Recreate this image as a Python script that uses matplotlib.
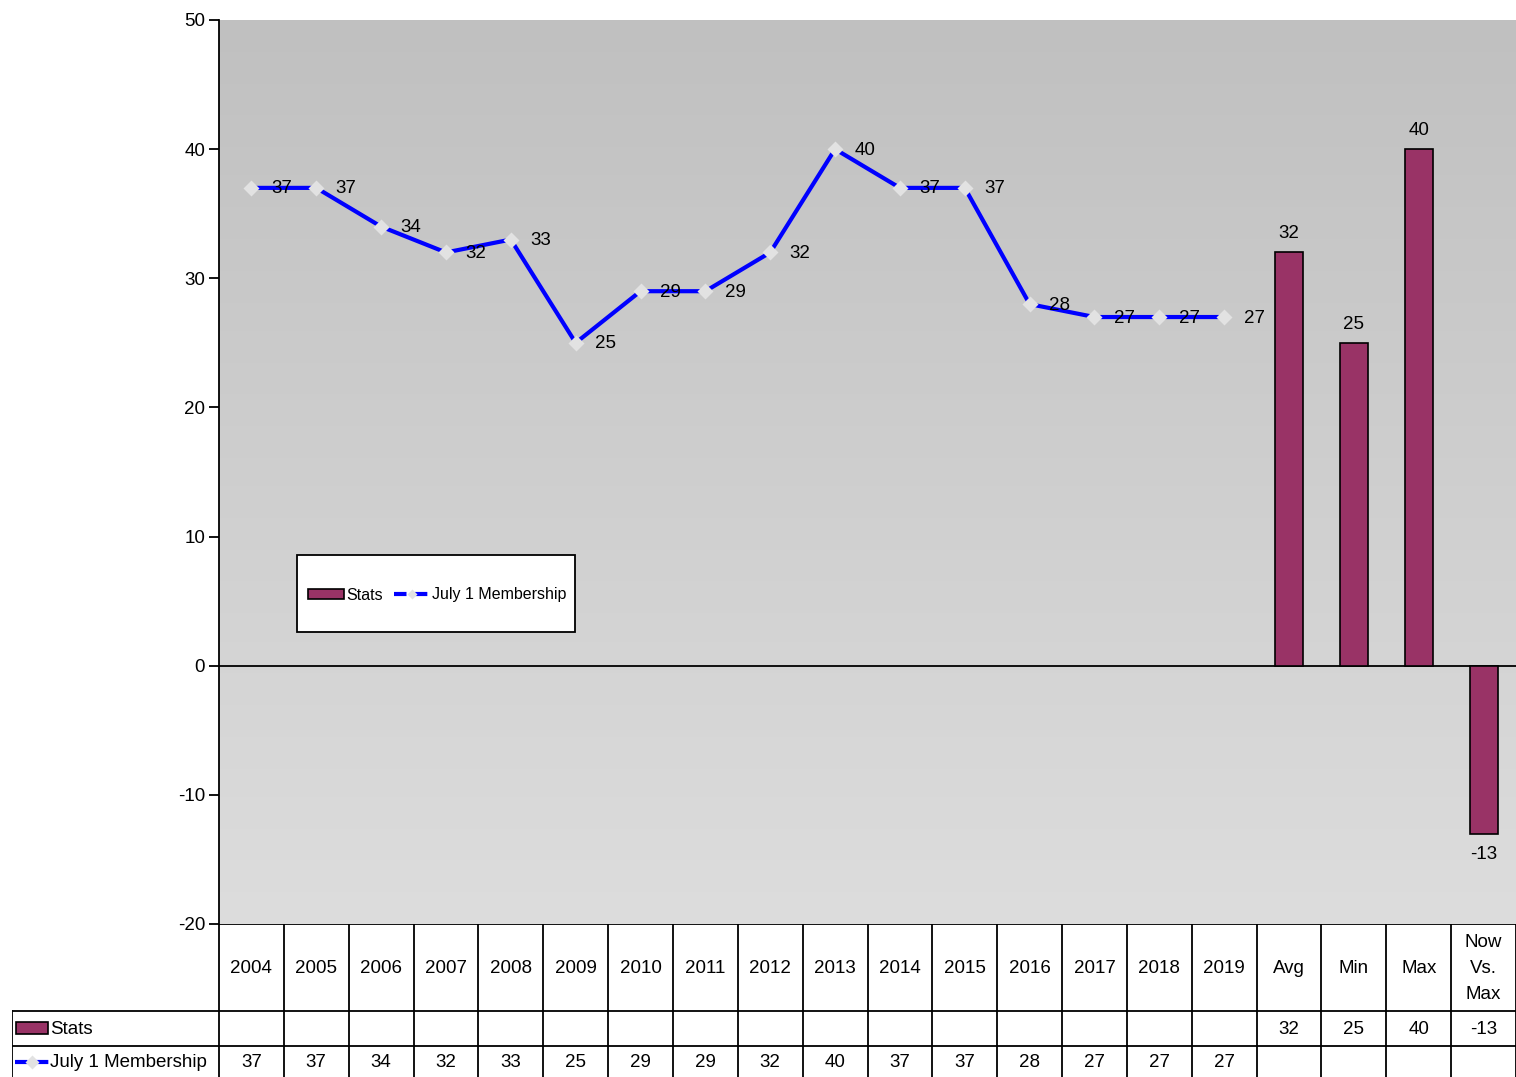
import numpy as np
import matplotlib
matplotlib.use("Agg")
import matplotlib.pyplot as plt
from matplotlib.lines import Line2D
from matplotlib.patches import Rectangle

plt.rcParams['font.family'] = ['Liberation Sans', 'DejaVu Sans']

categories = ['2004', '2005', '2006', '2007', '2008', '2009', '2010', '2011', '2012', '2013',
              '2014', '2015', '2016', '2017', '2018', '2019', 'Avg', 'Min', 'Max', 'Now\nVs.\nMax']
membership = [37, 37, 34, 32, 33, 25, 29, 29, 32, 40, 37, 37, 28, 27, 27, 27]
stats_labels = ['Avg', 'Min', 'Max', 'Now\nVs.\nMax']
stats = [32, 25, 40, -13]
yticks = [-20, -10, 0, 10, 20, 30, 40, 50]

W, H = 1516, 1077
fig = plt.figure(figsize=(W / 100, H / 100), dpi=100)
fig.patch.set_facecolor('white')

# plot area in pixels
L, R, T, B = 219, 1516, 20, 924
ax = fig.add_axes([L / W, 1 - B / H, (R - L) / W, (B - T) / H])
n = len(categories)
ax.set_xlim(-0.5, n - 0.5)
ax.set_ylim(-20, 50)

# gradient background
grad = np.linspace(0, 1, 256).reshape(-1, 1)
cmap = matplotlib.colors.LinearSegmentedColormap.from_list('bg', ['#dddddd', '#c0c0c0'])
ax.imshow(grad, extent=[-0.5, n - 0.5, -20, 50], origin='lower', aspect='auto',
          cmap=cmap, zorder=0)

for s in ['top', 'right', 'bottom']:
    ax.spines[s].set_visible(False)
ax.spines['left'].set_linewidth(1.3)
ax.axhline(0, color='black', lw=1.3, zorder=2)
ax.set_yticks(yticks)
ax.set_yticklabels([str(v) for v in yticks], fontsize=13.5)
ax.tick_params(axis='y', direction='out', length=7, width=1.3, pad=3)
ax.set_xticks([])

# bars
xs_bar = [categories.index(s) for s in stats_labels]
ax.bar(xs_bar, stats, width=0.43, color='#993366', edgecolor='black', linewidth=1.2, zorder=3)
for x, v in zip(xs_bar, stats):
    if v >= 0:
        ax.annotate(str(v), (x, v), xytext=(0, 10), textcoords='offset pixels',
                    ha='center', va='bottom', fontsize=13.5)
    else:
        ax.annotate(str(v), (x, v), xytext=(0, -12), textcoords='offset pixels',
                    ha='center', va='top', fontsize=13.5)

# line
xs = np.arange(len(membership))
ax.plot(xs, membership, color='#0000ff', lw=3, zorder=4)
ax.plot(xs, membership, ls='none', marker='D', ms=8, color='#e2e2e2', mec='none', zorder=5)
for x, v in zip(xs, membership):
    ax.annotate(str(v), (x, v), xytext=(30, -1), textcoords='offset pixels',
                ha='center', va='center', fontsize=13.5, zorder=6)

# legend (frame drawn separately to get the box size)
fig.patches.append(Rectangle((297 / W, 1 - 632 / H), (575 - 297) / W, (632 - 555) / H,
                             transform=fig.transFigure, facecolor='white',
                             edgecolor='black', lw=1.3, zorder=5))
h_bar = Rectangle((0, 0), 1, 1, facecolor='#993366', edgecolor='black', lw=1.2)
h_line = Line2D([], [], color='#0000ff', lw=3, ls=(0, (3, 2)), marker='D', ms=5,
                mfc='#e2e2e2', mec='none')
leg = fig.legend([h_bar, h_line], ['Stats', 'July 1 Membership'], ncol=2,
                 loc='center', bbox_to_anchor=(437 / W, 1 - 595 / H),
                 fontsize=11.5, frameon=False,
                 handlelength=2.3, handleheight=0.6, handletextpad=0.1, columnspacing=0.7)
leg.set_zorder(6)

# data table below the plot
tab_left = 12
tab = fig.add_axes([tab_left / W, 0, (R - tab_left) / W, (H - B) / H])
unit = (R - L) / n
tab.set_xlim(-0.5 - (L - tab_left) / unit, n - 0.5)
tab.set_ylim(H, B)
tab.axis('off')

lw = 1.3
row_y = [924, 1011, 1046, 1077]
# grid
tab.plot([-0.5, n - 0.5], [row_y[0], row_y[0]], color='black', lw=lw)
xl = -0.5 - (L - tab_left) / unit
for y in row_y[1:3]:
    tab.plot([xl, n - 0.5], [y, y], color='black', lw=lw)
for i in range(n + 1):
    tab.plot([i - 0.5, i - 0.5], [row_y[0], H], color='black', lw=lw)
tab.plot([xl, xl], [row_y[1], H], color='black', lw=lw)

for i, c in enumerate(categories):
    tab.text(i, (row_y[0] + row_y[1]) / 2 + 1, c, ha='center', va='center', fontsize=13.5,
             linespacing=1.7)
for x, v in zip(xs_bar, stats):
    tab.text(x, (row_y[1] + row_y[2]) / 2 + 1, str(v), ha='center', va='center', fontsize=13.5)
for x, v in zip(xs, membership):
    tab.text(x, (row_y[2] + row_y[3]) / 2 + 1, str(v), ha='center', va='center', fontsize=13.5)

# row labels with keys
ku = 1 / unit
tab.add_patch(Rectangle((xl + 4 * ku, 1022), 32 * ku, 12, facecolor='#993366',
                        edgecolor='black', lw=1.2))
tab.text(xl + 38 * ku, (row_y[1] + row_y[2]) / 2 + 1, 'Stats', ha='left', va='center', fontsize=13.5)
tab.plot([xl + 3 * ku, xl + 37 * ku], [1062, 1062], color='#0000ff', lw=3, ls=(0, (3, 2)))
tab.plot([xl + 20 * ku], [1062], marker='D', ms=7, color='#e2e2e2', mec='none')
tab.text(xl + 38 * ku, (row_y[2] + row_y[3]) / 2 + 1, 'July 1 Membership', ha='left',
         va='center', fontsize=13.5)

fig.savefig('out.png', dpi=100, facecolor='white')
